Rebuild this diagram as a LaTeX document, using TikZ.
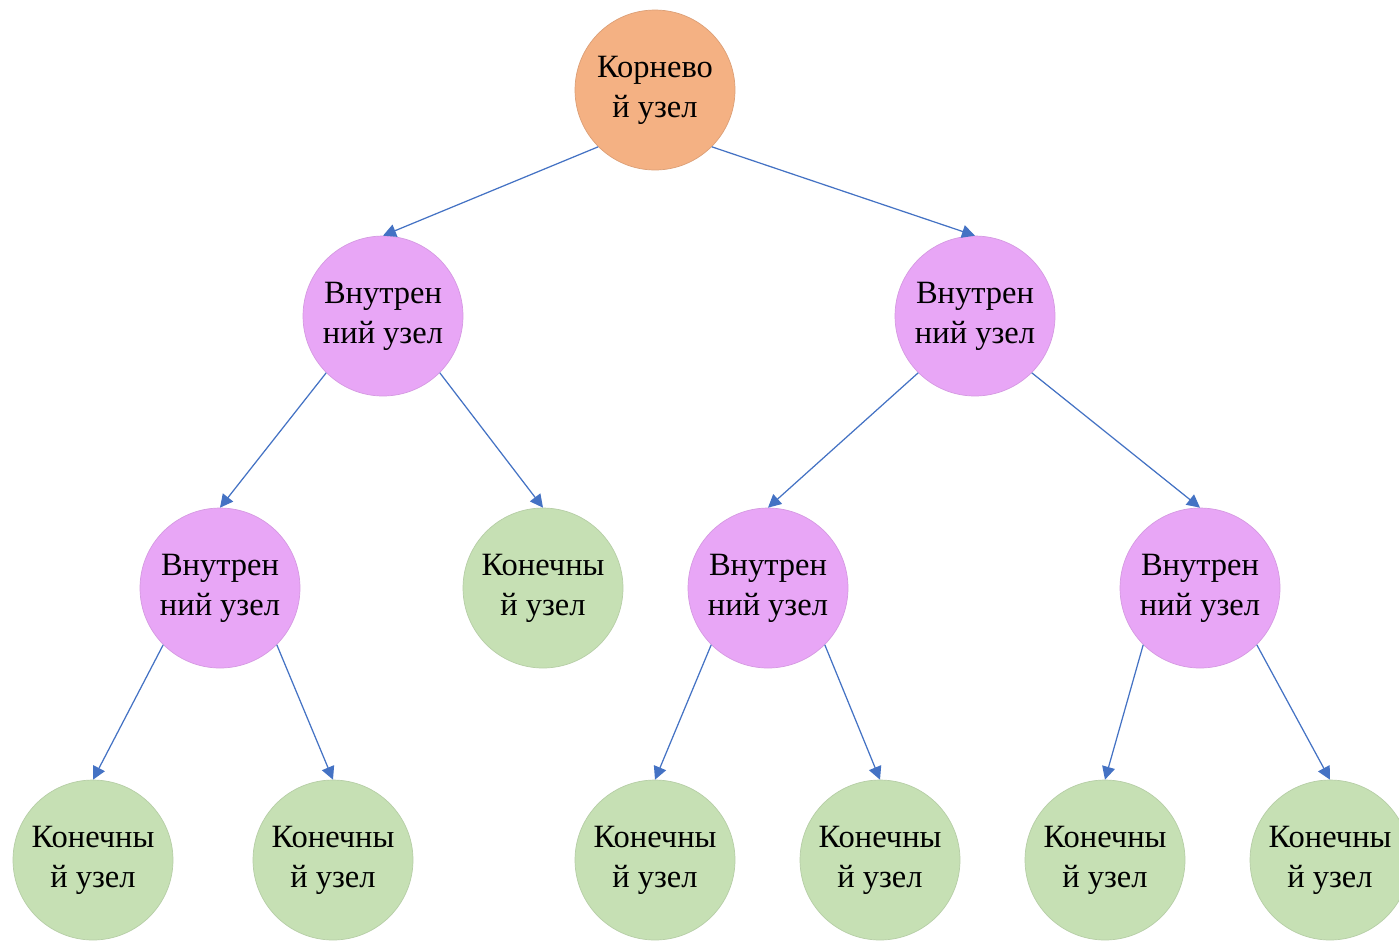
\documentclass[tikz,border=0pt]{standalone}
\usepackage{fontspec}
\setmainfont{Liberation Serif}
\usepackage{tikz}
\usetikzlibrary{arrows.meta,positioning}
\definecolor{rootcol}{HTML}{F4B183}
\definecolor{innercol}{HTML}{E8A6F6}
\definecolor{leafcol}{HTML}{C6E0B4}
\definecolor{linkcol}{HTML}{4472C4}
\tikzset{font=\fontsize{18.5}{22.7}\selectfont}
\tikzstyle{knot}=[circle,minimum size=3.2cm,inner sep=0pt,align=center,text=black]
\tikzstyle{rootk}=[knot,fill=rootcol,draw=rootcol!90!black]
\tikzstyle{innerk}=[knot,fill=innercol,draw=innercol!92!black]
\tikzstyle{leafk}=[knot,fill=leafcol,draw=leafcol!92!black]
\tikzstyle{link}=[draw=linkcol,line width=0.7pt,-{Triangle[length=0.26cm,width=0.26cm,fill=linkcol]}]

\begin{document}
\begin{tikzpicture}[x=0.02cm,y=-0.02cm]
\clip (0,0) rectangle (1399,941);
\fill[white] (0,0) rectangle (1399,941);
\node[rootk] (R) at (655,90) {Корнево\\й узел};
\node[innerk] (A) at (383,316) {Внутрен\\ний узел};
\node[innerk] (B) at (975,316) {Внутрен\\ний узел};
\node[innerk] (A1) at (220,588) {Внутрен\\ний узел};
\node[leafk] (A2) at (543,588) {Конечны\\й узел};
\node[innerk] (B1) at (768,588) {Внутрен\\ний узел};
\node[innerk] (B2) at (1200,588) {Внутрен\\ний узел};
\node[leafk] (A11) at (93,860) {Конечны\\й узел};
\node[leafk] (A12) at (333,860) {Конечны\\й узел};
\node[leafk] (B11) at (655,860) {Конечны\\й узел};
\node[leafk] (B12) at (880,860) {Конечны\\й узел};
\node[leafk] (B21) at (1105,860) {Конечны\\й узел};
\node[leafk] (B22) at (1330,860) {Конечны\\й узел};
\path[every edge/.append style={link}]
(R.-135) edge (A.north)
(R.-45) edge (B.north)
(A.-135) edge (A1.north)
(A.-45) edge (A2.north)
(B.-135) edge (B1.north)
(B.-45) edge (B2.north)
(A1.-135) edge (A11.north)
(A1.-45) edge (A12.north)
(B1.-135) edge (B11.north)
(B1.-45) edge (B12.north)
(B2.-135) edge (B21.north)
(B2.-45) edge (B22.north);
\end{tikzpicture}
\end{document}
